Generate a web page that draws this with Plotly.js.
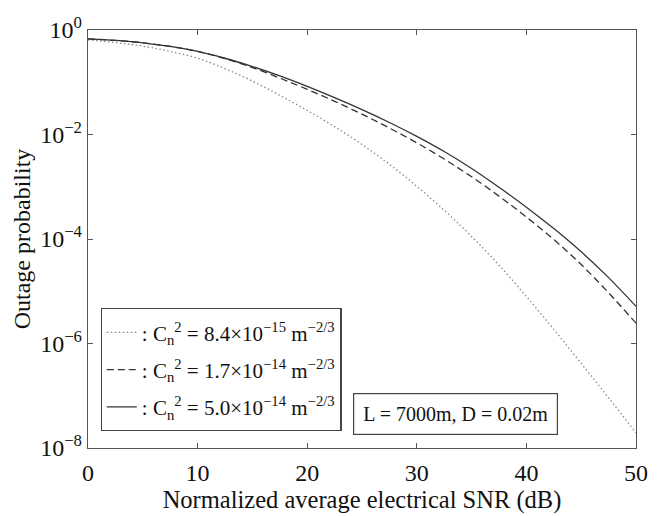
<!DOCTYPE html>
<html>
<head>
<meta charset="utf-8">
<script src="https://cdn.plot.ly/plotly-3.0.1.min.js"></script>
<style>html,body{margin:0;padding:0;background:#fff;}#chart{width:661px;height:516px;}</style>
</head>
<body>
<div id="chart"></div>
<script>
// Normalized average electrical SNR (dB)
const snr = [0, 2.5, 5, 7.5, 10, 12.5, 15, 17.5, 20, 22.5, 25, 27.5, 30, 32.5, 35, 37.5, 40, 42.5, 45, 47.5, 50];
// Outage probability, Cn^2 = 8.4e-15 (dotted)
const pDotted = [0.646, 0.575, 0.490, 0.389, 0.288, 0.182, 0.105, 0.0562, 0.0288, 0.0141, 6.46e-3, 2.69e-3, 1.02e-3, 3.55e-4, 1.12e-4, 3.16e-5, 7.94e-6, 1.86e-6, 4.17e-7, 9.12e-8, 1.95e-8];
// Cn^2 = 1.7e-14 (dashed)
const pDashed = [0.676, 0.631, 0.569, 0.484, 0.389, 0.282, 0.191, 0.120, 0.0733, 0.0432, 0.0245, 0.0133, 6.92e-3, 3.39e-3, 1.55e-3, 6.61e-4, 2.63e-4, 9.77e-5, 3.24e-5, 9.33e-6, 2.45e-6];
// Cn^2 = 5.0e-14 (solid)
const pSolid = [0.676, 0.631, 0.569, 0.484, 0.389, 0.288, 0.200, 0.132, 0.0832, 0.0507, 0.0299, 0.0170, 9.23e-3, 4.73e-3, 2.24e-3, 9.77e-4, 4.07e-4, 1.58e-4, 5.69e-5, 1.82e-5, 5.13e-6];

const seriesNames = [
  ': C<sub>n</sub><sup>2</sup> = 8.4×10<sup>−15</sup> m<sup>−2/3</sup>',
  ': C<sub>n</sub><sup>2</sup> = 1.7×10<sup>−14</sup> m<sup>−2/3</sup>',
  ': C<sub>n</sub><sup>2</sup> = 5.0×10<sup>−14</sup> m<sup>−2/3</sup>'
];
const xTicks = [0, 10, 20, 30, 40, 50];
const yTickVals = [1, 1e-2, 1e-4, 1e-6, 1e-8];
const yTickText = ['10<sup>0</sup>', '10<sup>−2</sup>', '10<sup>−4</sup>', '10<sup>−6</sup>', '10<sup>−8</sup>'];
const noteText = 'L = 7000m, D = 0.02m';

const font = 'Liberation Serif, Times New Roman, serif';

const traces = [
  {x: snr, y: pDotted, name: seriesNames[0], legendgroup: 'a', mode: 'lines', line: {color: '#8a8a8a', width: 1.3, dash: '1.5px,2.5px', shape: 'spline'}},
  {x: snr, y: pDashed, name: seriesNames[1], legendgroup: 'b', mode: 'lines', line: {color: '#333', width: 1.3, dash: '7px,4px', shape: 'spline'}},
  {x: snr, y: pSolid, name: seriesNames[2], legendgroup: 'c', mode: 'lines', line: {color: '#333', width: 1.3, shape: 'spline'}}
];

const layout = {
  width: 661, height: 516,
  margin: {l: 87.5, r: 25, t: 30, b: 68},
  paper_bgcolor: '#fff', plot_bgcolor: '#fff',
  font: {family: font, size: 24, color: '#111'},
  showlegend: true,
  legend: {
    x: 0.023, y: 0.335, xanchor: 'left', yanchor: 'top',
    bgcolor: '#fff', bordercolor: '#444', borderwidth: 1.2,
    font: {family: font, size: 21, color: '#111'},
    itemwidth: 30, tracegroupgap: 7,
    entrywidth: 0
  },
  xaxis: {
    range: [0, 50], tickvals: xTicks, ticks: 'inside', ticklen: 5,
    showline: true, linecolor: '#555', linewidth: 1.2, mirror: 'ticks',
    tickcolor: '#555', showgrid: false, zeroline: false,
    tickfont: {family: font, size: 24}, ticklabelstandoff: 3,
    title: {text: 'Normalized average electrical SNR (dB)', font: {family: font, size: 24.5}, standoff: 5}
  },
  yaxis: {
    type: 'log', range: [-8, 0], tickvals: yTickVals, ticktext: yTickText,
    ticks: 'inside', ticklen: 5,
    showline: true, linecolor: '#555', linewidth: 1.2, mirror: 'ticks',
    tickcolor: '#555', showgrid: false, zeroline: false,
    tickfont: {family: font, size: 24},
    title: {text: 'Outage probability', font: {family: font, size: 24}, standoff: 2}
  },
  annotations: [{
    text: noteText, xref: 'paper', yref: 'paper', x: 0.67, y: 0.081,
    xanchor: 'center', yanchor: 'middle', showarrow: false,
    font: {family: font, size: 20, color: '#111'},
    bordercolor: '#444', borderwidth: 1.2, borderpad: 9, bgcolor: '#fff'
  }]
};

Plotly.newPlot('chart', traces, layout, {displayModeBar: false, staticPlot: true}).then(function () {
  // add a little padding above the first legend row, as in the reference box
  const bg = document.querySelector('.legend .bg');
  const items = document.querySelector('.legend .scrollbox');
  if (bg && items) {
    const h = parseFloat(bg.getAttribute('height'));
    bg.setAttribute('height', h + 5);
    const t = items.getAttribute('transform') || '';
    items.setAttribute('transform', t + ' translate(0,3)');
  }
});
</script>
</body>
</html>
